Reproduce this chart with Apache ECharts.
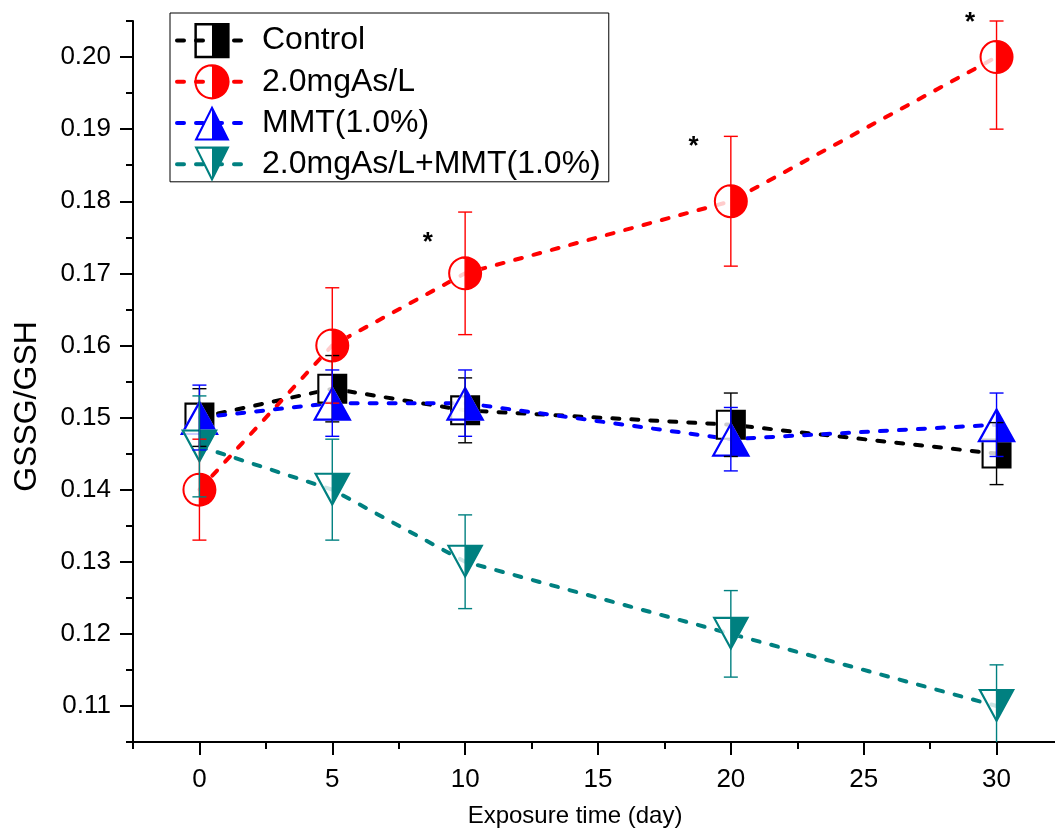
<!DOCTYPE html>
<html>
<head>
<meta charset="utf-8">
<title>GSSG/GSH</title>
<script src="https://cdn.jsdelivr.net/npm/echarts@6/dist/echarts.min.js"></script>
<style>
html, body { margin: 0; padding: 0; background: #fff; }
#chart { width: 1055px; height: 835px; }
</style>
</head>
<body>
<div id="chart"></div>
<script>
// exposure time (day)
var days = [0, 5, 10, 20, 30];

// GSSG/GSH mean and error
var controlVal = [0.150, 0.154, 0.151, 0.149, 0.145];
var controlErr = [0.0040, 0.0046, 0.0045, 0.0044, 0.0043];
var arsenicVal = [0.140, 0.160, 0.170, 0.180, 0.200];
var arsenicErr = [0.0070, 0.0080, 0.0085, 0.0090, 0.0100];
var mmtVal = [0.150, 0.152, 0.152, 0.147, 0.149];
var mmtErr = [0.0045, 0.0046, 0.0046, 0.0044, 0.0044];
var comboVal = [0.146, 0.140, 0.130, 0.120, 0.110];
var comboErr = [0.0070, 0.0070, 0.0065, 0.0060, 0.0057];

var groupNames = ['Control', '2.0mgAs/L', 'MMT(1.0%)', '2.0mgAs/L+MMT(1.0%)'];

// significance marks (day, ratio)
var starX = [8.6, 18.6, 29.0];
var starY = [0.1742, 0.1876, 0.2048];

// ticks
var xTicks = [0, 5, 10, 15, 20, 25, 30];
var xMinorTicks = [-2.5, 2.5, 7.5, 12.5, 17.5, 22.5, 27.5];
var yTicks = [0.11, 0.12, 0.13, 0.14, 0.15, 0.16, 0.17, 0.18, 0.19, 0.20];
var yMinorTicks = [0.105, 0.115, 0.125, 0.135, 0.145, 0.155, 0.165, 0.175, 0.185, 0.195, 0.205];

var xMin = -2.5, xMax = 32.2, yMin = 0.105, yMax = 0.205;

// half filled markers: left half outline, right half solid (10x10 box)
var SQUARE = 'path://M5,0 L0,0 L0,10 L5,10 L5,9.3 L0.7,9.3 L0.7,0.7 L5,0.7 Z M5,0 L10,0 L10,10 L5,10 Z';
var CIRCLE = 'path://M5,0 A5,5 0 0 0 5,10 L5,9.4 A4.4,4.4 0 0 1 5,0.6 Z M5,0 A5,5 0 0 1 5,10 Z';
var TRI_UP = 'path://M5,0 L0,10 L5,10 L5,9.4 L0.97,9.4 L5,1.34 Z M5,0 L10,10 L5,10 Z';
var TRI_DOWN = 'path://M5,10 L0,0 L5,0 L5,0.6 L0.97,0.6 L5,8.66 Z M5,0 L10,0 L5,10 Z';
var TRI_DOWN_FULL = 'path://M0,0 L10,0 L5,10 Z';

var groups = [
    {val: controlVal, err: controlErr, color: '#000000', mark: SQUARE, back: 'rect', size: [30, 30]},
    {val: arsenicVal, err: arsenicErr, color: '#ff0000', mark: CIRCLE, back: 'circle', size: [34, 34]},
    {val: mmtVal, err: mmtErr, color: '#0000ff', mark: TRI_UP, back: 'triangle', size: [39, 35]},
    {val: comboVal, err: comboErr, color: '#008080', mark: TRI_DOWN, back: TRI_DOWN_FULL, size: [37, 34]}
];

var FONT = '"Liberation Sans", Arial, sans-serif';
var dash = [7, 12];

var series = [];
var legendData = [];

// marker series first, the legend takes its icon from them
groups.forEach(function (g, i) {
    var pts = days.map(function (d, k) { return [d, g.val[k]]; });
    series.push({
        name: groupNames[i],
        type: 'line',
        data: pts,
        symbol: g.mark,
        symbolSize: g.size,
        symbolKeepAspect: false,
        itemStyle: {color: g.color},
        lineStyle: {color: g.color, opacity: 0},
        z: 4 + 2 * i,
        silent: true,
        animation: false
    });
    legendData.push({
        name: groupNames[i],
        itemStyle: {color: g.color, borderWidth: 0, opacity: 1},
        lineStyle: {color: g.color, width: 4, type: dash, cap: 'round', opacity: 1}
    });
});

groups.forEach(function (g, i) {
    var pts = days.map(function (d, k) { return [d, g.val[k]]; });
    // dashed connecting line
    series.push({
        name: groupNames[i],
        type: 'line',
        data: pts,
        symbol: 'none',
        lineStyle: {color: g.color, width: 4, type: dash, cap: 'round'},
        z: 2,
        silent: true,
        animation: false
    });
    // white inside of the hollow half
    series.push({
        name: groupNames[i],
        type: 'scatter',
        data: pts,
        symbol: g.back,
        symbolSize: g.size,
        symbolKeepAspect: false,
        itemStyle: {color: '#ffffff'},
        z: 3 + 2 * i,
        silent: true,
        animation: false
    });
    // error bars
    series.push({
        name: groupNames[i],
        type: 'custom',
        data: days.map(function (d, k) { return [d, g.val[k], g.err[k]]; }),
        encode: {x: 0, y: 1},
        z: 20,
        silent: true,
        animation: false,
        renderItem: function (params, api) {
            var x = api.value(0), v = api.value(1), e = api.value(2);
            var hi = Math.min(v + e, yMax), lo = Math.max(v - e, yMin);
            var top = api.coord([x, hi]);
            var bot = api.coord([x, lo]);
            var w = 7;
            var st = {stroke: g.color, lineWidth: 1.4};
            var kids = [{type: 'line', shape: {x1: top[0], y1: top[1], x2: bot[0], y2: bot[1]}, style: st},
                        {type: 'line', shape: {x1: top[0] - w, y1: top[1], x2: top[0] + w, y2: top[1]}, style: st}];
            if (lo > yMin) {
                kids.push({type: 'line', shape: {x1: bot[0] - w, y1: bot[1], x2: bot[0] + w, y2: bot[1]}, style: st});
            }
            return {type: 'group', children: kids};
        }
    });
});

series.push({
    type: 'custom',
    data: starX.map(function (x, k) { return [x, starY[k]]; }),
    encode: {x: 0, y: 1},
    clip: false,
    z: 21,
    silent: true,
    animation: false,
    renderItem: function (params, api) {
        var p = api.coord([api.value(0), api.value(1)]);
        return {
            type: 'text',
            x: p[0],
            y: p[1],
            style: {text: '*', fill: '#000', font: 'bold 26px ' + FONT, align: 'center', verticalAlign: 'middle'}
        };
    }
});

var axisLine = {show: true, onZero: false, lineStyle: {color: '#000', width: 2}};

var chart = echarts.init(document.getElementById('chart'), null, {renderer: 'canvas'});
chart.setOption({
    animation: false,
    backgroundColor: '#fff',
    textStyle: {fontFamily: FONT, color: '#000'},
    grid: {left: 133, right: 0, top: 21, bottom: 93, containLabel: false, outerBoundsMode: 'none'},
    legend: {
        orient: 'vertical',
        left: 170,
        top: 13,
        padding: [10, 8, 0, 5],
        itemWidth: 70,
        itemHeight: 44,
        itemGap: 6,
        borderColor: '#000',
        borderWidth: 1,
        borderRadius: 0,
        selectedMode: false,
        textStyle: {fontSize: 32, color: '#000', fontFamily: FONT, padding: [0, 0, 0, 10]},
        data: legendData
    },
    xAxis: [{
        type: 'value',
        min: xMin,
        max: xMax,
        position: 'bottom',
        axisLine: axisLine,
        splitLine: {show: false},
        axisTick: {show: true, customValues: xTicks, length: 13, lineStyle: {color: '#000', width: 2}},
        axisLabel: {show: true, customValues: xTicks, fontSize: 26, color: '#000', margin: 25, fontFamily: FONT},
        name: 'Exposure time (day)',
        nameLocation: 'middle',
        nameGap: 62,
        nameTextStyle: {fontSize: 24, color: '#000', fontFamily: FONT, padding: [0, 38, 0, 0]}
    }, {
        type: 'value',
        min: xMin,
        max: xMax,
        position: 'bottom',
        axisLine: {show: false, onZero: false},
        splitLine: {show: false},
        axisTick: {show: true, customValues: xMinorTicks, length: 7, lineStyle: {color: '#000', width: 2}},
        axisLabel: {show: false}
    }],
    yAxis: [{
        type: 'value',
        min: yMin,
        max: yMax,
        position: 'left',
        axisLine: axisLine,
        splitLine: {show: false},
        axisTick: {show: true, customValues: yTicks, length: 13, lineStyle: {color: '#000', width: 2}},
        axisLabel: {
            show: true, customValues: yTicks, fontSize: 26, color: '#000', margin: 22, fontFamily: FONT,
            formatter: function (v) { return v.toFixed(2); }
        },
        name: 'GSSG/GSH',
        nameLocation: 'middle',
        nameGap: 90,
        nameTextStyle: {fontSize: 32, color: '#000', fontFamily: FONT, padding: [0, 50, 0, 0]}
    }, {
        type: 'value',
        min: yMin,
        max: yMax,
        position: 'left',
        axisLine: {show: false, onZero: false},
        splitLine: {show: false},
        axisTick: {show: true, customValues: yMinorTicks, length: 7, lineStyle: {color: '#000', width: 2}},
        axisLabel: {show: false}
    }],
    series: series
});
</script>
</body>
</html>
